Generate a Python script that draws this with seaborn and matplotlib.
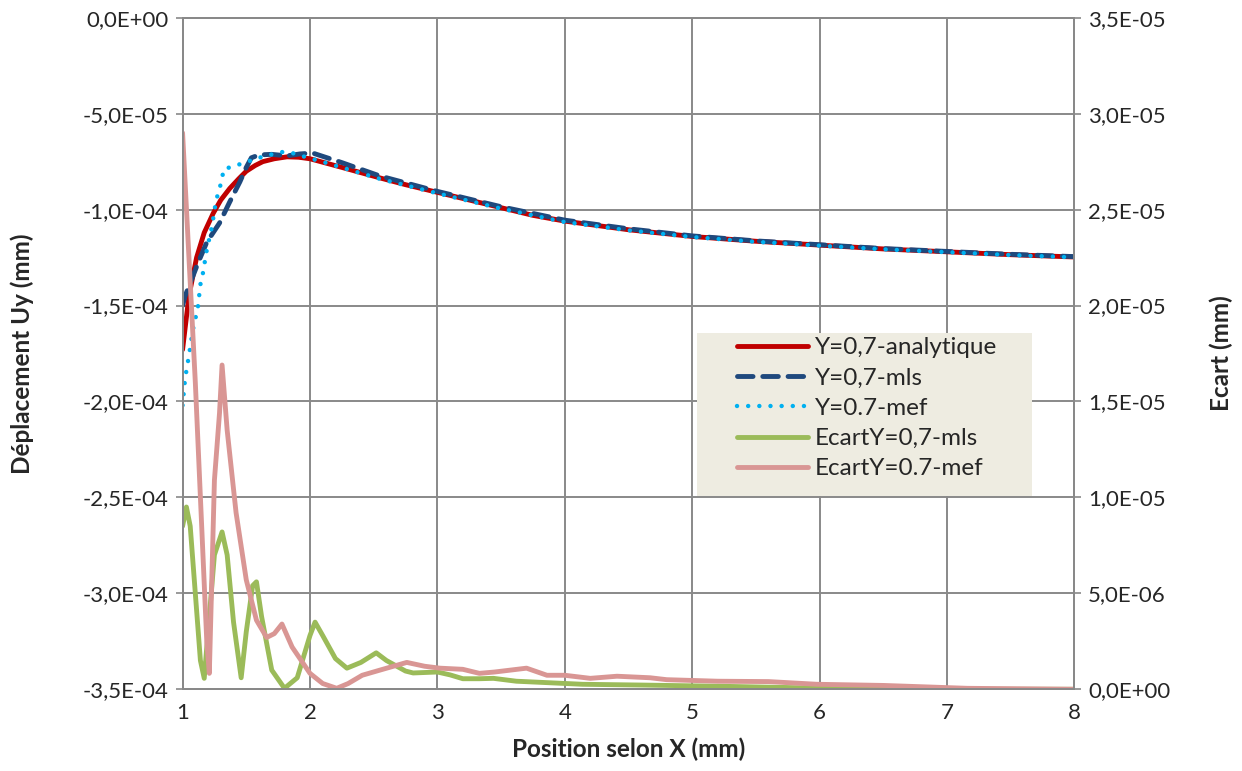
import numpy as np
import pandas as pd
import matplotlib
matplotlib.use("Agg")
import matplotlib.pyplot as plt
from matplotlib.ticker import FuncFormatter, MultipleLocator
from matplotlib.patches import Rectangle
import seaborn as sns

# Uy along the line Y=0.7 (values in 1e-4 mm)
x_ana = [1.00, 1.05, 1.11, 1.17, 1.24, 1.30, 1.37, 1.44, 1.50, 1.57, 1.63, 1.72, 1.82, 1.91,
         2.00, 2.25, 2.55, 2.75, 3.00, 3.25, 3.50, 3.75, 4.00, 4.50, 5.00, 5.50, 6.00, 6.50,
         7.00, 7.50, 8.00]
uy_ana = [-1.73, -1.45, -1.25, -1.12, -1.02, -0.95, -0.89, -0.84, -0.80, -0.77, -0.75, -0.735,
          -0.725, -0.727, -0.735, -0.78, -0.835, -0.87, -0.91, -0.95, -0.99, -1.03, -1.06,
          -1.105, -1.14, -1.165, -1.185, -1.205, -1.22, -1.235, -1.247]

x_mls = [1.00, 1.02, 1.05, 1.12, 1.19, 1.29, 1.37, 1.45, 1.50, 1.54, 1.60, 1.70, 1.82, 1.92,
         2.02, 2.25, 2.55, 3.00, 3.50, 4.00, 4.50, 5.00, 5.50, 6.00, 6.50, 7.00, 7.50, 8.00]
uy_mls = [-1.50, -1.45, -1.40, -1.28, -1.17, -1.07, -0.96, -0.855, -0.78, -0.73, -0.715, -0.712,
          -0.72, -0.71, -0.705, -0.755, -0.825, -0.905, -0.985, -1.055, -1.10, -1.137, -1.163,
          -1.183, -1.203, -1.218, -1.233, -1.245]

x_mef = [1.00, 1.02, 1.05, 1.08, 1.12, 1.14, 1.16, 1.19, 1.23, 1.26, 1.28, 1.31, 1.32, 1.42,
         1.51, 1.60, 1.68, 1.78, 1.86, 1.96, 2.13, 2.55, 3.00, 3.50, 4.00, 4.50, 5.00, 5.50,
         6.00, 6.50, 7.00, 7.50, 8.00]
uy_mef = [-2.02, -1.88, -1.76, -1.63, -1.51, -1.39, -1.33, -1.21, -1.09, -0.965, -0.91, -0.845,
          -0.79, -0.77, -0.75, -0.73, -0.715, -0.70, -0.705, -0.725, -0.757, -0.84, -0.915,
          -0.995, -1.065, -1.108, -1.143, -1.168, -1.188, -1.207, -1.222, -1.237, -1.249]

# Ecart (values in 1e-6 mm)
x_err_mls = [1.00, 1.03, 1.06, 1.10, 1.14, 1.17, 1.20, 1.25, 1.31, 1.35, 1.40, 1.46, 1.50, 1.55,
             1.58, 1.62, 1.70, 1.80, 1.90, 2.00, 2.04, 2.10, 2.20, 2.29, 2.40, 2.52, 2.60, 2.75,
             2.81, 3.00, 3.10, 3.20, 3.33, 3.44, 3.62, 4.14, 4.60, 5.20, 6.24, 7.00, 8.00]
err_mls = [8.5, 9.5, 8.5, 5.0, 1.5, 0.57, 3.0, 7.0, 8.2, 7.0, 3.5, 0.6, 3.0, 5.4, 5.6, 3.8, 1.0,
           0.05, 0.6, 2.8, 3.5, 2.8, 1.6, 1.1, 1.4, 1.9, 1.5, 0.95, 0.85, 0.9, 0.75, 0.55, 0.55,
           0.57, 0.42, 0.26, 0.22, 0.16, 0.03, 0.0, 0.0]

x_err_mef = [1.00, 1.05, 1.10, 1.15, 1.19, 1.21, 1.25, 1.29, 1.31, 1.35, 1.42, 1.50, 1.58, 1.66,
             1.72, 1.78, 1.86, 2.00, 2.10, 2.21, 2.30, 2.41, 2.55, 2.76, 2.90, 3.02, 3.20, 3.33,
             3.45, 3.70, 3.86, 4.00, 4.20, 4.41, 4.67, 4.80, 5.20, 5.60, 5.98, 6.50, 7.16, 8.00]
err_mef = [29.0, 22.5, 16.0, 8.5, 2.5, 0.83, 10.9, 14.4, 16.9, 13.5, 9.2, 5.7, 3.6, 2.7, 2.9,
           3.4, 2.2, 0.83, 0.3, 0.05, 0.3, 0.73, 1.0, 1.4, 1.2, 1.1, 1.04, 0.83, 0.9, 1.1, 0.73,
           0.73, 0.57, 0.68, 0.6, 0.5, 0.42, 0.4, 0.26, 0.2, 0.05, 0.0]

labels = ["Y=0,7-analytique", "Y=0,7-mls", "Y=0.7-mef", "EcartY=0,7-mls", "EcartY=0.7-mef"]

sns.set_style("white")
plt.rcParams['font.family'] = ['Lato', 'DejaVu Sans']

fig = plt.figure(figsize=(12.42, 7.71), dpi=100)
ax = fig.add_axes([0.147, 0.106, 0.718, 0.871])
ax2 = ax.twinx()

grid_c = "#898989"

# main curves on the left axis
sns.lineplot(x=x_ana, y=np.array(uy_ana) * 1e-4, ax=ax, color="#C00000", lw=3.5, label=labels[0])
sns.lineplot(x=x_mls, y=np.array(uy_mls) * 1e-4, ax=ax, color="#1F497D", lw=3.5,
             label=labels[1], dashes=False)
ax.lines[-1].set_dashes([3.2, 2.0])
ax.lines[-1].set_dash_capstyle("round")
sns.lineplot(x=x_mef, y=np.array(uy_mef) * 1e-4, ax=ax, color="#00B0F0", lw=3.2, label=labels[2])
ax.lines[-1].set_dashes([0.01, 2.5])
ax.lines[-1].set_dash_capstyle("round")

# errors on the right axis
sns.lineplot(x=x_err_mls, y=np.array(err_mls) * 1e-6, ax=ax2, color="#9BBB59", lw=3.5, label=labels[3])
sns.lineplot(x=x_err_mef, y=np.array(err_mef) * 1e-6, ax=ax2, color="#D99694", lw=3.5, label=labels[4])

def sci_fmt(v, pos):
    if abs(v) < 1e-12:
        v = 0.0
    return f"{v:.1E}".replace(".", ",")

ax.set_xlim(1, 8)
ax.set_ylim(-3.5e-4, 0)
ax2.set_ylim(0, 3.5e-5)
ax.xaxis.set_major_locator(MultipleLocator(1))
ax.yaxis.set_major_locator(MultipleLocator(5e-5))
ax2.yaxis.set_major_locator(MultipleLocator(5e-6))
ax.yaxis.set_major_formatter(FuncFormatter(sci_fmt))
ax2.yaxis.set_major_formatter(FuncFormatter(sci_fmt))

ax.grid(True, color=grid_c, lw=1.4)
ax.set_axisbelow(True)
for a in (ax, ax2):
    for s in a.spines.values():
        s.set_color(grid_c)
        s.set_linewidth(1.4)
    a.tick_params(axis="both", labelsize=16, length=5, width=1.2, color=grid_c, pad=5)

ax.set_xlabel("Position selon X (mm)", fontsize=17.5, fontweight="bold", labelpad=10)
ax.set_ylabel("Déplacement Uy (mm)", fontsize=17.5, fontweight="bold", labelpad=35)
ax2.set_ylabel("Ecart (mm)", fontsize=17.5, fontweight="bold", labelpad=28)

# legend with beige background box
h1, l1 = ax.get_legend_handles_labels()
h2, l2 = ax2.get_legend_handles_labels()
ax.get_legend().remove()
ax2.get_legend().remove()
ax2.add_patch(Rectangle((0.577, 0.288), 0.375, 0.243, transform=ax2.transAxes,
                        facecolor="#EEECE1", edgecolor="none", zorder=4))
leg = ax2.legend(h1 + h2, l1 + l2, loc="upper left", bbox_to_anchor=(0.622, 0.524),
                 frameon=False, fontsize=17.5, handlelength=2.9, handletextpad=0.3,
                 labelspacing=0.38, borderpad=0, borderaxespad=0)
leg.set_zorder(5)

fig.savefig("out.png", dpi=100)
